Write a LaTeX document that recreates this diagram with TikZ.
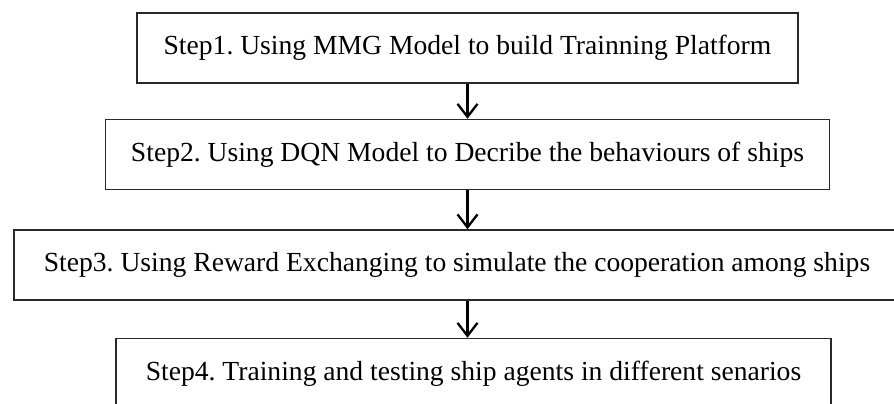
\documentclass[tikz,border=0pt]{standalone}
\usepackage{fontspec}
\setmainfont{Liberation Serif}
\usetikzlibrary{positioning, arrows.meta}
\definecolor{ink}{rgb}{0.16,0.16,0.16}

\begin{document}
\frenchspacing
\begin{tikzpicture}[
  every node/.style={
    draw=ink,
    line width=1.5pt,
    minimum height=70pt,
    text=black,
    font=\fontsize{27.6}{32}\selectfont,
  },
  flow/.style={
    line width=2.3pt,
    -{Straight Barb[length=13pt,width=20pt,line width=2.3pt]},
  }
]
\useasboundingbox (0,0) rectangle (894pt,-404pt);

\node(s1)[minimum width=661pt] at (467.5pt,-48pt) {Step1. Using MMG Model to build Trainning Platform};
\node(s2)[minimum width=724pt, below=35pt of s1] {Step2. Using DQN Model to Decribe the behaviours of ships};
\node(s3)[minimum width=886pt, below=39pt of s2, xshift=-10.5pt] {Step3. Using Reward Exchanging to simulate the cooperation among ships};
\node(s4)[minimum width=715pt, below=37pt of s3, xshift=16.5pt] {Step4. Training and testing ship agents in different senarios};

\draw[flow] (s1) -- (s2);
\draw[flow] (s2) -- (s2 |- s3.north);
\draw[flow] (s2 |- s3.south) -- (s2 |- s4.north);

\end{tikzpicture}
\end{document}
